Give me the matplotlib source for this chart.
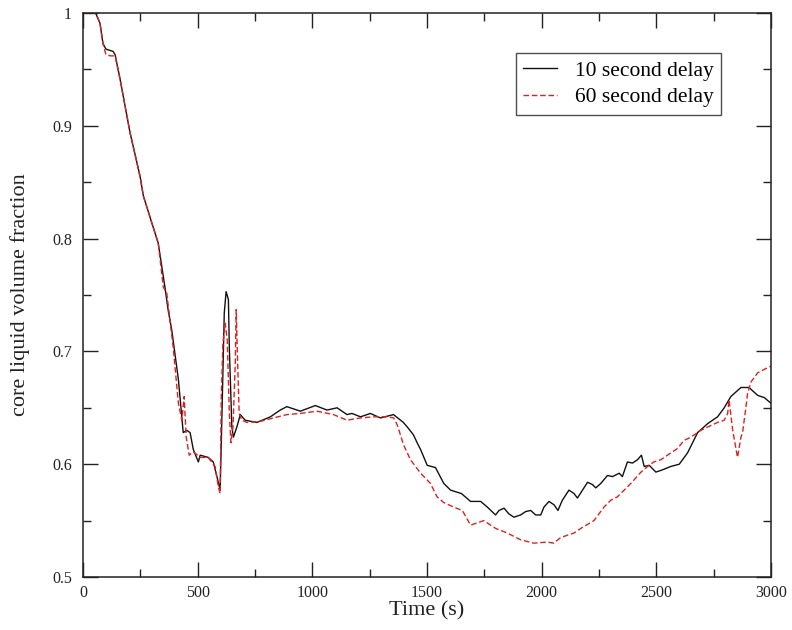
import matplotlib
matplotlib.use("Agg")
import matplotlib.pyplot as plt
from matplotlib.ticker import MultipleLocator, FuncFormatter

# ---- data ----
t_10s = [0, 55, 74, 87, 100, 115, 131, 140, 162, 205, 249, 263, 300, 328, 358, 371,
         387, 416, 437, 453, 467, 481, 503, 511, 546, 568, 584, 598, 606, 616, 624,
         634, 638, 649, 656, 671, 686, 707, 758, 817, 860, 889, 948, 1013, 1064,
         1108, 1151, 1173, 1210, 1253, 1297, 1354, 1397, 1414, 1441, 1457, 1472,
         1501, 1537, 1573, 1603, 1650, 1690, 1734, 1763, 1799, 1814, 1836, 1857,
         1879, 1908, 1930, 1952, 1974, 1996, 2010, 2032, 2054, 2071, 2090, 2119,
         2141, 2156, 2178, 2200, 2221, 2236, 2258, 2287, 2309, 2338, 2352, 2374,
         2396, 2418, 2435, 2447, 2469, 2498, 2527, 2563, 2600, 2636, 2680,
         2724, 2767, 2796, 2825, 2869, 2904, 2942, 2971, 3000]
v_10s = [1.000, 1.000, 0.991, 0.973, 0.968, 0.967, 0.966, 0.963, 0.941, 0.894,
         0.855, 0.838, 0.814, 0.796, 0.756, 0.737, 0.719, 0.675, 0.628, 0.630,
         0.628, 0.613, 0.602, 0.608, 0.606, 0.602, 0.589, 0.577, 0.645, 0.734,
         0.753, 0.746, 0.704, 0.633, 0.624, 0.633, 0.644, 0.639, 0.637, 0.642,
         0.648, 0.651, 0.647, 0.652, 0.648, 0.650, 0.644, 0.645, 0.642, 0.645,
         0.641, 0.644, 0.637, 0.633, 0.626, 0.619, 0.613, 0.599, 0.597, 0.583,
         0.577, 0.574, 0.567, 0.567, 0.562, 0.555, 0.559, 0.561, 0.556, 0.553,
         0.555, 0.558, 0.559, 0.555, 0.555, 0.562, 0.567, 0.564, 0.559, 0.568,
         0.577, 0.574, 0.570, 0.577, 0.584, 0.582, 0.579, 0.583, 0.590, 0.589,
         0.592, 0.589, 0.602, 0.601, 0.604, 0.608, 0.598, 0.599, 0.593, 0.595,
         0.598, 0.600, 0.610, 0.628, 0.636, 0.642, 0.650, 0.660, 0.668, 0.668,
         0.661, 0.659, 0.654]

t_60s = [0, 55, 74, 87, 100, 120, 140, 162, 205, 249, 263, 300, 328, 350, 365, 393,
         416, 431, 441, 450, 463, 481, 511, 546, 576, 590, 598, 603, 610, 620, 629,
         638, 645, 654, 664, 668, 674, 681, 693, 715, 773, 830, 889, 948, 1020,
         1092, 1151, 1210, 1267, 1326, 1355, 1370, 1398, 1428, 1472, 1515, 1544,
         1573, 1616, 1654, 1690, 1719, 1748, 1777, 1800, 1850, 1908, 1966, 2025,
         2053, 2083, 2141, 2170, 2228, 2272, 2301, 2330, 2389, 2433, 2462, 2489,
         2520, 2563, 2593, 2620, 2651, 2694, 2724, 2767, 2796, 2811, 2817, 2833,
         2854, 2869, 2876, 2891, 2898, 2913, 2942, 2970, 3000]
v_60s = [1.000, 1.000, 0.991, 0.973, 0.963, 0.962, 0.962, 0.941, 0.894, 0.855,
         0.838, 0.814, 0.796, 0.757, 0.752, 0.704, 0.654, 0.639, 0.660, 0.624,
         0.608, 0.611, 0.606, 0.606, 0.598, 0.580, 0.574, 0.660, 0.707, 0.725,
         0.710, 0.645, 0.619, 0.633, 0.690, 0.737, 0.692, 0.645, 0.639, 0.637,
         0.638, 0.641, 0.644, 0.645, 0.647, 0.644, 0.639, 0.641, 0.642, 0.642,
         0.641, 0.635, 0.617, 0.604, 0.592, 0.583, 0.571, 0.566, 0.562, 0.559,
         0.546, 0.548, 0.550, 0.546, 0.543, 0.539, 0.533, 0.530, 0.531, 0.530,
         0.535, 0.539, 0.543, 0.550, 0.562, 0.568, 0.571, 0.583, 0.593, 0.598,
         0.602, 0.604, 0.610, 0.614, 0.621, 0.624, 0.630, 0.633, 0.637, 0.639,
         0.645, 0.657, 0.630, 0.606, 0.624, 0.628, 0.651, 0.663, 0.673, 0.681,
         0.684, 0.687]

series_labels = ["10 second delay", "60 second delay"]
x_label = "Time (s)"
y_label = "core liquid volume fraction"

# ---- figure ----
plt.rcParams['font.family'] = ['Liberation Serif', 'DejaVu Serif']

fig = plt.figure(figsize=(7.92, 6.30), dpi=100)
ax = fig.add_axes([83 / 792, 1 - 577 / 630, 688 / 792, 564 / 630])

ax.plot(t_10s, v_10s, color='#111111', lw=1.0, label=series_labels[0])
ax.plot(t_60s, v_60s, color='#e02020', lw=1.0, dashes=(4, 2), label=series_labels[1])

ax.set_xlim(0, 3000)
ax.set_ylim(0.5, 1.0)
ax.xaxis.set_major_locator(MultipleLocator(500))
ax.xaxis.set_minor_locator(MultipleLocator(250))
ax.yaxis.set_major_locator(MultipleLocator(0.1))
ax.yaxis.set_minor_locator(MultipleLocator(0.05))
ax.yaxis.set_major_formatter(FuncFormatter(lambda v, p: f"{v:g}"))

ax.tick_params(which='both', direction='in', top=True, right=True,
               colors='#222222', width=1.0)
ax.tick_params(which='major', length=11)
ax.tick_params(which='minor', length=6)
ax.tick_params(axis='x', which='major', labelsize=11.5, pad=6)
ax.tick_params(axis='y', which='major', labelsize=11.5, pad=8)
for s in ax.spines.values():
    s.set_linewidth(1.1)
    s.set_color('#222222')

ax.set_xlabel(x_label, fontsize=16, labelpad=0, color='#222222')
ax.set_ylabel(y_label, fontsize=16, labelpad=16, color='#222222')

leg = ax.legend(loc='upper right', bbox_to_anchor=((721 - 83) / 688, (577 - 53) / 564),
                borderaxespad=0, fontsize=15.5, frameon=True, fancybox=False,
                edgecolor='#222222', handlelength=1.6, handletextpad=0.8,
                labelspacing=0.3, borderpad=0.35)
leg.get_frame().set_linewidth(1.0)

fig.savefig("out.png", dpi=100)
